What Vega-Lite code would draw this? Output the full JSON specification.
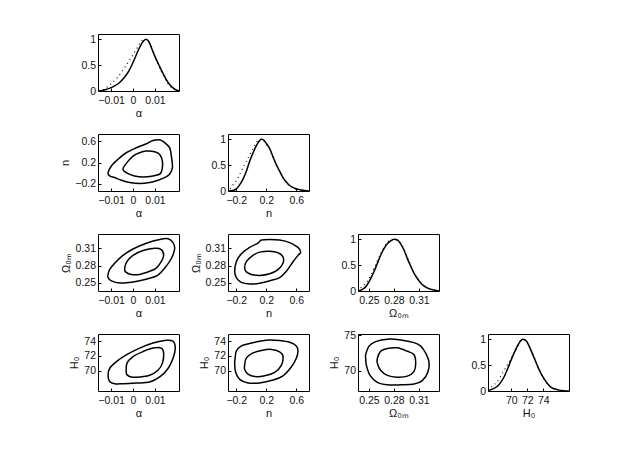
{
"$schema": "https://vega.github.io/schema/vega-lite/v6.json",
"padding": {"left": 59, "top": 33, "right": 5, "bottom": 5},
"background": "white",
"datasets": {
"d_a": [
{"s":"solid","x":-0.016,"y":0.0},{"s":"solid","x":-0.014,"y":0.012},{"s":"solid","x":-0.012,"y":0.035},{"s":"solid","x":-0.01,"y":0.065},{"s":"solid","x":-0.008,"y":0.11},{"s":"solid","x":-0.006,"y":0.17},{"s":"solid","x":-0.004,"y":0.26},{"s":"solid","x":-0.002,"y":0.38},{"s":"solid","x":0.0,"y":0.55},{"s":"solid","x":0.0015,"y":0.7},{"s":"solid","x":0.003,"y":0.84},{"s":"solid","x":0.0045,"y":0.95},{"s":"solid","x":0.0058,"y":1.0},{"s":"solid","x":0.007,"y":0.97},{"s":"solid","x":0.008,"y":0.88},{"s":"solid","x":0.0091,"y":0.76},{"s":"solid","x":0.0105,"y":0.62},{"s":"solid","x":0.0122,"y":0.47},{"s":"solid","x":0.0137,"y":0.34},{"s":"solid","x":0.0152,"y":0.22},{"s":"solid","x":0.0168,"y":0.12},{"s":"solid","x":0.0183,"y":0.06},{"s":"solid","x":0.0197,"y":0.02},{"s":"solid","x":0.021,"y":0.003},
{"s":"dot","x":-0.0137,"y":0.02},{"s":"dot","x":-0.012,"y":0.07},{"s":"dot","x":-0.01,"y":0.14},{"s":"dot","x":-0.008,"y":0.22},{"s":"dot","x":-0.006,"y":0.32},{"s":"dot","x":-0.004,"y":0.44},{"s":"dot","x":-0.002,"y":0.57},{"s":"dot","x":0.0,"y":0.7},{"s":"dot","x":0.002,"y":0.84},{"s":"dot","x":0.0035,"y":0.94},{"s":"dot","x":0.005,"y":1.0},{"s":"dot","x":0.0065,"y":0.98},{"s":"dot","x":0.008,"y":0.88},{"s":"dot","x":0.0095,"y":0.72},{"s":"dot","x":0.011,"y":0.56},{"s":"dot","x":0.0125,"y":0.41},{"s":"dot","x":0.014,"y":0.28},{"s":"dot","x":0.0155,"y":0.17},{"s":"dot","x":0.017,"y":0.09},{"s":"dot","x":0.0185,"y":0.04},{"s":"dot","x":0.02,"y":0.01}
],
"d_n": [
{"s":"solid","x":-0.31,"y":0.0},{"s":"solid","x":-0.243,"y":0.01},{"s":"solid","x":-0.2,"y":0.04},{"s":"solid","x":-0.177,"y":0.075},{"s":"solid","x":-0.14,"y":0.15},{"s":"solid","x":-0.11,"y":0.23},{"s":"solid","x":-0.065,"y":0.38},{"s":"solid","x":-0.021,"y":0.575},{"s":"solid","x":0.025,"y":0.74},{"s":"solid","x":0.068,"y":0.875},{"s":"solid","x":0.105,"y":0.96},{"s":"solid","x":0.134,"y":1.0},{"s":"solid","x":0.16,"y":0.99},{"s":"solid","x":0.179,"y":0.96},{"s":"solid","x":0.21,"y":0.9},{"s":"solid","x":0.246,"y":0.82},{"s":"solid","x":0.29,"y":0.66},{"s":"solid","x":0.334,"y":0.51},{"s":"solid","x":0.38,"y":0.38},{"s":"solid","x":0.423,"y":0.26},{"s":"solid","x":0.47,"y":0.17},{"s":"solid","x":0.512,"y":0.106},{"s":"solid","x":0.555,"y":0.07},{"s":"solid","x":0.601,"y":0.044},{"s":"solid","x":0.65,"y":0.025},{"s":"solid","x":0.69,"y":0.0125},{"s":"solid","x":0.73,"y":0.004},{"s":"solid","x":0.77,"y":0.0},
{"s":"dot","x":-0.28,"y":0.04},{"s":"dot","x":-0.266,"y":0.075},{"s":"dot","x":-0.233,"y":0.14},{"s":"dot","x":-0.199,"y":0.2},{"s":"dot","x":-0.165,"y":0.29},{"s":"dot","x":-0.132,"y":0.39},{"s":"dot","x":-0.1,"y":0.48},{"s":"dot","x":-0.066,"y":0.575},{"s":"dot","x":-0.032,"y":0.67},{"s":"dot","x":0.001,"y":0.76},{"s":"dot","x":0.035,"y":0.85},{"s":"dot","x":0.068,"y":0.94},{"s":"dot","x":0.1,"y":0.99},{"s":"dot","x":0.12,"y":1.0},{"s":"dot","x":0.15,"y":0.99},{"s":"dot","x":0.179,"y":0.95},{"s":"dot","x":0.21,"y":0.88},{"s":"dot","x":0.246,"y":0.8},{"s":"dot","x":0.29,"y":0.66},{"s":"dot","x":0.334,"y":0.5},{"s":"dot","x":0.38,"y":0.36},{"s":"dot","x":0.423,"y":0.25},{"s":"dot","x":0.468,"y":0.17},{"s":"dot","x":0.512,"y":0.1},{"s":"dot","x":0.56,"y":0.06},{"s":"dot","x":0.601,"y":0.035},{"s":"dot","x":0.65,"y":0.02}
],
"d_o": [
{"s":"solid","x":0.237,"y":0.0},{"s":"solid","x":0.2422,"y":0.03},{"s":"solid","x":0.2455,"y":0.07},{"s":"solid","x":0.2482,"y":0.125},{"s":"solid","x":0.2522,"y":0.24},{"s":"solid","x":0.2562,"y":0.375},{"s":"solid","x":0.2601,"y":0.53},{"s":"solid","x":0.2641,"y":0.69},{"s":"solid","x":0.2681,"y":0.82},{"s":"solid","x":0.2721,"y":0.91},{"s":"solid","x":0.2765,"y":0.97},{"s":"solid","x":0.2809,"y":1.0},{"s":"solid","x":0.2845,"y":0.98},{"s":"solid","x":0.2881,"y":0.91},{"s":"solid","x":0.2921,"y":0.79},{"s":"solid","x":0.2961,"y":0.625},{"s":"solid","x":0.3001,"y":0.48},{"s":"solid","x":0.3041,"y":0.34},{"s":"solid","x":0.3081,"y":0.24},{"s":"solid","x":0.3121,"y":0.156},{"s":"solid","x":0.316,"y":0.1},{"s":"solid","x":0.32,"y":0.06},{"s":"solid","x":0.324,"y":0.035},{"s":"solid","x":0.328,"y":0.02},{"s":"solid","x":0.331,"y":0.008},{"s":"solid","x":0.334,"y":0.0},
{"s":"dot","x":0.2402,"y":0.06},{"s":"dot","x":0.2442,"y":0.12},{"s":"dot","x":0.2482,"y":0.19},{"s":"dot","x":0.2522,"y":0.3},{"s":"dot","x":0.2562,"y":0.44},{"s":"dot","x":0.2601,"y":0.58},{"s":"dot","x":0.2641,"y":0.72},{"s":"dot","x":0.2681,"y":0.84},{"s":"dot","x":0.2721,"y":0.94},{"s":"dot","x":0.2755,"y":0.98},{"s":"dot","x":0.278,"y":1.0},{"s":"dot","x":0.2809,"y":0.995},{"s":"dot","x":0.2845,"y":0.97},{"s":"dot","x":0.2881,"y":0.92},{"s":"dot","x":0.2921,"y":0.8},{"s":"dot","x":0.2961,"y":0.65},{"s":"dot","x":0.3001,"y":0.5},{"s":"dot","x":0.3041,"y":0.36},{"s":"dot","x":0.3081,"y":0.25},{"s":"dot","x":0.3121,"y":0.16},{"s":"dot","x":0.316,"y":0.1},{"s":"dot","x":0.32,"y":0.06},{"s":"dot","x":0.324,"y":0.03}
],
"d_h": [
{"s":"solid","x":67.1,"y":0.01},{"s":"solid","x":67.72,"y":0.04},{"s":"solid","x":68.34,"y":0.1},{"s":"solid","x":68.75,"y":0.18},{"s":"solid","x":69.16,"y":0.29},{"s":"solid","x":69.58,"y":0.44},{"s":"solid","x":69.99,"y":0.6},{"s":"solid","x":70.4,"y":0.75},{"s":"solid","x":70.81,"y":0.88},{"s":"solid","x":71.12,"y":0.96},{"s":"solid","x":71.43,"y":1.0},{"s":"solid","x":71.65,"y":0.99},{"s":"solid","x":71.85,"y":0.97},{"s":"solid","x":72.16,"y":0.89},{"s":"solid","x":72.47,"y":0.78},{"s":"solid","x":72.88,"y":0.63},{"s":"solid","x":73.29,"y":0.475},{"s":"solid","x":73.7,"y":0.34},{"s":"solid","x":74.12,"y":0.23},{"s":"solid","x":74.53,"y":0.14},{"s":"solid","x":74.94,"y":0.074},{"s":"solid","x":75.35,"y":0.042},{"s":"solid","x":75.77,"y":0.025},{"s":"solid","x":76.18,"y":0.012},{"s":"solid","x":76.59,"y":0.006},{"s":"solid","x":77.18,"y":0.0},
{"s":"dot","x":67.51,"y":0.074},{"s":"dot","x":67.92,"y":0.13},{"s":"dot","x":68.34,"y":0.2},{"s":"dot","x":68.75,"y":0.3},{"s":"dot","x":69.16,"y":0.41},{"s":"dot","x":69.58,"y":0.52},{"s":"dot","x":69.99,"y":0.63},{"s":"dot","x":70.4,"y":0.74},{"s":"dot","x":70.81,"y":0.85},{"s":"dot","x":71.02,"y":0.92},{"s":"dot","x":71.22,"y":0.97},{"s":"dot","x":71.43,"y":1.0},{"s":"dot","x":71.65,"y":0.99},{"s":"dot","x":71.85,"y":0.97},{"s":"dot","x":72.16,"y":0.9},{"s":"dot","x":72.47,"y":0.79},{"s":"dot","x":72.88,"y":0.64},{"s":"dot","x":73.29,"y":0.48},{"s":"dot","x":73.7,"y":0.34},{"s":"dot","x":74.12,"y":0.22},{"s":"dot","x":74.53,"y":0.13},{"s":"dot","x":74.94,"y":0.07},{"s":"dot","x":75.35,"y":0.035}
],
"c_an": [
{"s":"o","i":0,"x":-0.0114,"y":0.010},{"s":"o","i":1,"x":-0.0099,"y":0.135},{"s":"o","i":2,"x":-0.0069,"y":0.259},{"s":"o","i":3,"x":-0.0031,"y":0.383},{"s":"o","i":4,"x":0.0015,"y":0.476},{"s":"o","i":5,"x":0.0061,"y":0.551},{"s":"o","i":6,"x":0.0091,"y":0.612},{"s":"o","i":7,"x":0.0125,"y":0.622},{"s":"o","i":8,"x":0.0148,"y":0.56},{"s":"o","i":9,"x":0.0168,"y":0.47},{"s":"o","i":10,"x":0.0176,"y":0.29},{"s":"o","i":11,"x":0.018,"y":0.103},{"s":"o","i":12,"x":0.0167,"y":-0.021},{"s":"o","i":13,"x":0.0144,"y":-0.083},{"s":"o","i":14,"x":0.0114,"y":-0.133},{"s":"o","i":15,"x":0.0076,"y":-0.176},{"s":"o","i":16,"x":0.003,"y":-0.195},{"s":"o","i":17,"x":-0.0015,"y":-0.176},{"s":"o","i":18,"x":-0.0053,"y":-0.133},{"s":"o","i":19,"x":-0.0084,"y":-0.083},{"s":"o","i":20,"x":-0.0107,"y":-0.052},
{"s":"i","i":0,"x":-0.0046,"y":0.072},{"s":"i","i":1,"x":-0.0028,"y":0.197},{"s":"i","i":2,"x":0.0,"y":0.321},{"s":"i","i":3,"x":0.003,"y":0.383},{"s":"i","i":4,"x":0.0061,"y":0.414},{"s":"i","i":5,"x":0.0099,"y":0.402},{"s":"i","i":6,"x":0.0122,"y":0.352},{"s":"i","i":7,"x":0.0134,"y":0.228},{"s":"i","i":8,"x":0.0134,"y":0.103},{"s":"i","i":9,"x":0.0125,"y":-0.008},{"s":"i","i":10,"x":0.0091,"y":-0.052},{"s":"i","i":11,"x":0.0046,"y":-0.07},{"s":"i","i":12,"x":0.0007,"y":-0.052},{"s":"i","i":13,"x":-0.0023,"y":-0.008}
],
"c_ao": [
{"s":"o","i":0,"x":-0.0114,"y":0.2648},{"s":"o","i":1,"x":-0.0107,"y":0.2731},{"s":"o","i":2,"x":-0.0084,"y":0.2841},{"s":"o","i":3,"x":-0.0046,"y":0.2979},{"s":"o","i":4,"x":0.0,"y":0.309},{"s":"o","i":5,"x":0.0061,"y":0.319},{"s":"o","i":6,"x":0.0122,"y":0.3256},{"s":"o","i":7,"x":0.016,"y":0.3267},{"s":"o","i":8,"x":0.0183,"y":0.3201},{"s":"o","i":9,"x":0.019,"y":0.309},{"s":"o","i":10,"x":0.0175,"y":0.2924},{"s":"o","i":11,"x":0.0145,"y":0.2758},{"s":"o","i":12,"x":0.0114,"y":0.2637},{"s":"o","i":13,"x":0.0076,"y":0.2581},{"s":"o","i":14,"x":0.003,"y":0.2537},{"s":"o","i":15,"x":-0.0015,"y":0.2509},{"s":"o","i":16,"x":-0.0061,"y":0.2498},{"s":"o","i":17,"x":-0.0099,"y":0.2537},{"s":"o","i":18,"x":-0.0114,"y":0.2592},
{"s":"i","i":0,"x":-0.0038,"y":0.2758},{"s":"i","i":1,"x":-0.0028,"y":0.2869},{"s":"i","i":2,"x":0.0,"y":0.2979},{"s":"i","i":3,"x":0.0046,"y":0.3062},{"s":"i","i":4,"x":0.0099,"y":0.3101},{"s":"i","i":5,"x":0.0129,"y":0.3079},{"s":"i","i":6,"x":0.014,"y":0.2979},{"s":"i","i":7,"x":0.0129,"y":0.2869},{"s":"i","i":8,"x":0.0106,"y":0.2758},{"s":"i","i":9,"x":0.0076,"y":0.2703},{"s":"i","i":10,"x":0.003,"y":0.2648},{"s":"i","i":11,"x":-0.0008,"y":0.2648},{"s":"i","i":12,"x":-0.0034,"y":0.2692}
],
"c_no": [
{"s":"o","i":0,"x":-0.221,"y":0.2703},{"s":"o","i":1,"x":-0.199,"y":0.2869},{"s":"o","i":2,"x":-0.132,"y":0.3007},{"s":"o","i":3,"x":-0.021,"y":0.3118},{"s":"o","i":4,"x":0.09,"y":0.319},{"s":"o","i":5,"x":0.134,"y":0.3245},{"s":"o","i":6,"x":0.246,"y":0.3256},{"s":"o","i":7,"x":0.379,"y":0.3245},{"s":"o","i":8,"x":0.512,"y":0.3201},{"s":"o","i":9,"x":0.623,"y":0.3118},{"s":"o","i":10,"x":0.659,"y":0.3035},{"s":"o","i":11,"x":0.623,"y":0.2979},{"s":"o","i":12,"x":0.557,"y":0.2869},{"s":"o","i":13,"x":0.468,"y":0.2703},{"s":"o","i":14,"x":0.379,"y":0.2592},{"s":"o","i":15,"x":0.246,"y":0.2537},{"s":"o","i":16,"x":0.112,"y":0.2493},{"s":"o","i":17,"x":-0.021,"y":0.2482},{"s":"o","i":18,"x":-0.132,"y":0.2509},{"s":"o","i":19,"x":-0.199,"y":0.2592},
{"s":"i","i":0,"x":-0.088,"y":0.2758},{"s":"i","i":1,"x":-0.066,"y":0.2869},{"s":"i","i":2,"x":0.023,"y":0.2979},{"s":"i","i":3,"x":0.112,"y":0.3035},{"s":"i","i":4,"x":0.246,"y":0.3051},{"s":"i","i":5,"x":0.357,"y":0.3024},{"s":"i","i":6,"x":0.423,"y":0.2952},{"s":"i","i":7,"x":0.423,"y":0.2841},{"s":"i","i":8,"x":0.357,"y":0.2731},{"s":"i","i":9,"x":0.246,"y":0.2659},{"s":"i","i":10,"x":0.112,"y":0.2631},{"s":"i","i":11,"x":0.001,"y":0.2648},{"s":"i","i":12,"x":-0.066,"y":0.2692}
],
"c_ah": [
{"s":"o","i":0,"x":-0.0114,"y":69.35},{"s":"o","i":1,"x":-0.0107,"y":70.28},{"s":"o","i":2,"x":-0.0076,"y":71.21},{"s":"o","i":3,"x":-0.0031,"y":72.14},{"s":"o","i":4,"x":0.003,"y":73.07},{"s":"o","i":5,"x":0.0091,"y":73.77},{"s":"o","i":6,"x":0.0152,"y":74.14},{"s":"o","i":7,"x":0.0183,"y":74.0},{"s":"o","i":8,"x":0.0193,"y":73.07},{"s":"o","i":9,"x":0.0183,"y":71.67},{"s":"o","i":10,"x":0.016,"y":70.28},{"s":"o","i":11,"x":0.0122,"y":69.12},{"s":"o","i":12,"x":0.0076,"y":68.42},{"s":"o","i":13,"x":0.0015,"y":68.28},{"s":"o","i":14,"x":-0.0046,"y":68.19},{"s":"o","i":15,"x":-0.0084,"y":68.19},{"s":"o","i":16,"x":-0.0107,"y":68.51},
{"s":"i","i":0,"x":-0.0031,"y":69.81},{"s":"i","i":1,"x":-0.0028,"y":70.98},{"s":"i","i":2,"x":0.0,"y":71.91},{"s":"i","i":3,"x":0.0046,"y":72.6},{"s":"i","i":4,"x":0.0091,"y":73.07},{"s":"i","i":5,"x":0.0129,"y":73.07},{"s":"i","i":6,"x":0.014,"y":72.37},{"s":"i","i":7,"x":0.0134,"y":70.98},{"s":"i","i":8,"x":0.0114,"y":70.05},{"s":"i","i":9,"x":0.0076,"y":69.35},{"s":"i","i":10,"x":0.003,"y":69.12},{"s":"i","i":11,"x":-0.0008,"y":69.12},{"s":"i","i":12,"x":-0.0028,"y":69.44}
],
"c_nh": [
{"s":"o","i":0,"x":-0.199,"y":72.65},{"s":"o","i":1,"x":-0.132,"y":73.37},{"s":"o","i":2,"x":-0.021,"y":73.71},{"s":"o","i":3,"x":0.112,"y":74.0},{"s":"o","i":4,"x":0.246,"y":74.19},{"s":"o","i":5,"x":0.379,"y":74.1},{"s":"o","i":6,"x":0.512,"y":73.86},{"s":"o","i":7,"x":0.601,"y":73.37},{"s":"o","i":8,"x":0.623,"y":72.65},{"s":"o","i":9,"x":0.601,"y":71.69},{"s":"o","i":10,"x":0.534,"y":70.48},{"s":"o","i":11,"x":0.423,"y":69.28},{"s":"o","i":12,"x":0.29,"y":68.7},{"s":"o","i":13,"x":0.112,"y":68.31},{"s":"o","i":14,"x":-0.043,"y":68.31},{"s":"o","i":15,"x":-0.154,"y":68.79},{"s":"o","i":16,"x":-0.208,"y":69.76},{"s":"o","i":17,"x":-0.221,"y":70.96},{"s":"o","i":18,"x":-0.212,"y":71.93},
{"s":"i","i":0,"x":-0.088,"y":70.72},{"s":"i","i":1,"x":-0.066,"y":71.69},{"s":"i","i":2,"x":0.023,"y":72.41},{"s":"i","i":3,"x":0.134,"y":72.75},{"s":"i","i":4,"x":0.268,"y":72.89},{"s":"i","i":5,"x":0.379,"y":72.55},{"s":"i","i":6,"x":0.423,"y":71.93},{"s":"i","i":7,"x":0.401,"y":70.72},{"s":"i","i":8,"x":0.312,"y":69.76},{"s":"i","i":9,"x":0.179,"y":69.28},{"s":"i","i":10,"x":0.046,"y":69.18},{"s":"i","i":11,"x":-0.043,"y":69.52},{"s":"i","i":12,"x":-0.088,"y":70.14}
],
"c_oh": [
{"s":"o","i":0,"x":0.2462,"y":72.24},{"s":"o","i":1,"x":0.2502,"y":73.45},{"s":"o","i":2,"x":0.2582,"y":74.08},{"s":"o","i":3,"x":0.2721,"y":74.42},{"s":"o","i":4,"x":0.2881,"y":74.32},{"s":"o","i":5,"x":0.3041,"y":73.94},{"s":"o","i":6,"x":0.3121,"y":73.45},{"s":"o","i":7,"x":0.318,"y":72.48},{"s":"o","i":8,"x":0.322,"y":71.27},{"s":"o","i":9,"x":0.3208,"y":69.81},{"s":"o","i":10,"x":0.314,"y":68.6},{"s":"o","i":11,"x":0.3041,"y":68.11},{"s":"o","i":12,"x":0.2881,"y":68.01},{"s":"o","i":13,"x":0.2721,"y":68.01},{"s":"o","i":14,"x":0.2602,"y":68.35},{"s":"o","i":15,"x":0.2514,"y":69.33},{"s":"o","i":16,"x":0.247,"y":70.78},{"s":"o","i":17,"x":0.2462,"y":71.75},
{"s":"i","i":0,"x":0.2602,"y":71.75},{"s":"i","i":1,"x":0.2641,"y":72.72},{"s":"i","i":2,"x":0.2721,"y":73.11},{"s":"i","i":3,"x":0.2841,"y":73.21},{"s":"i","i":4,"x":0.2961,"y":72.72},{"s":"i","i":5,"x":0.3041,"y":72.24},{"s":"i","i":6,"x":0.3061,"y":71.02},{"s":"i","i":7,"x":0.3041,"y":69.91},{"s":"i","i":8,"x":0.2961,"y":69.23},{"s":"i","i":9,"x":0.2841,"y":69.08},{"s":"i","i":10,"x":0.2721,"y":69.33},{"s":"i","i":11,"x":0.2641,"y":70.05},{"s":"i","i":12,"x":0.2602,"y":71.02}
]
},
"columns": 4,
"spacing": {"row": 43, "column": 49},
"bounds": "flush",
"concat": [
{"width":81,"height":57,"data":{"name":"d_a"},
 "encoding":{"x":{"field":"x","type":"quantitative","scale":{"domain":[-0.016,0.021],"nice":false,"zero":false},"axis":{"values":[-0.01,0,0.01],"format":"~g","title":"α"}},
  "y":{"field":"y","type":"quantitative","scale":{"domain":[0,1.1],"nice":false,"zero":false},"axis":{"values":[0,0.5,1],"format":"~g","title":null}}},
 "layer":[
  {"transform":[{"filter":"datum.s=='solid'"}],"mark":{"type":"line","interpolate":"monotone","color":"black","strokeWidth":1.5,"clip":true}},
  {"transform":[{"filter":"datum.s=='dot'"}],"mark":{"type":"line","interpolate":"monotone","color":"black","strokeWidth":1.1,"strokeDash":[1,3.5],"clip":true}}
 ]},
{"width":81,"height":57,"view":{"stroke":null},"data":{"values":[]},"mark":"point"},
{"width":81,"height":57,"view":{"stroke":null},"data":{"values":[]},"mark":"point"},
{"width":81,"height":57,"view":{"stroke":null},"data":{"values":[]},"mark":"point"},

{"width":81,"height":57,"data":{"name":"c_an"},
 "mark":{"type":"line","interpolate":"cardinal-closed","color":"black","strokeWidth":1.5,"clip":true},
 "encoding":{"x":{"field":"x","type":"quantitative","scale":{"domain":[-0.016,0.021],"nice":false,"zero":false},"axis":{"values":[-0.01,0,0.01],"format":"~g","title":"α"}},
  "y":{"field":"y","type":"quantitative","scale":{"domain":[-0.335,0.735],"nice":false,"zero":false},"axis":{"values":[-0.2,0.2,0.6],"format":"~g","title":"n"}},
  "detail":{"field":"s"},"order":{"field":"i"}}},
{"width":81,"height":57,"data":{"name":"d_n"},
 "encoding":{"x":{"field":"x","type":"quantitative","scale":{"domain":[-0.31,0.77],"nice":false,"zero":false},"axis":{"values":[-0.2,0.2,0.6],"format":"~g","title":"n"}},
  "y":{"field":"y","type":"quantitative","scale":{"domain":[0,1.1],"nice":false,"zero":false},"axis":{"values":[0,0.5,1],"format":"~g","title":null}}},
 "layer":[
  {"transform":[{"filter":"datum.s=='solid'"}],"mark":{"type":"line","interpolate":"monotone","color":"black","strokeWidth":1.5,"clip":true}},
  {"transform":[{"filter":"datum.s=='dot'"}],"mark":{"type":"line","interpolate":"monotone","color":"black","strokeWidth":1.1,"strokeDash":[1,3.5],"clip":true}}
 ]},
{"width":81,"height":57,"view":{"stroke":null},"data":{"values":[]},"mark":"point"},
{"width":81,"height":57,"view":{"stroke":null},"data":{"values":[]},"mark":"point"},

{"width":81,"height":57,"data":{"name":"c_ao"},
 "mark":{"type":"line","interpolate":"cardinal-closed","color":"black","strokeWidth":1.5,"clip":true},
 "encoding":{"x":{"field":"x","type":"quantitative","scale":{"domain":[-0.016,0.021],"nice":false,"zero":false},"axis":{"values":[-0.01,0,0.01],"format":"~g","title":"α"}},
  "y":{"field":"y","type":"quantitative","scale":{"domain":[0.236,0.335],"nice":false,"zero":false},"axis":{"values":[0.25,0.28,0.31],"format":"~g","title":"Ω₀ₘ"}},
  "detail":{"field":"s"},"order":{"field":"i"}}},
{"width":81,"height":57,"data":{"name":"c_no"},
 "mark":{"type":"line","interpolate":"cardinal-closed","color":"black","strokeWidth":1.5,"clip":true},
 "encoding":{"x":{"field":"x","type":"quantitative","scale":{"domain":[-0.31,0.77],"nice":false,"zero":false},"axis":{"values":[-0.2,0.2,0.6],"format":"~g","title":"n"}},
  "y":{"field":"y","type":"quantitative","scale":{"domain":[0.236,0.335],"nice":false,"zero":false},"axis":{"values":[0.25,0.28,0.31],"format":"~g","title":"Ω₀ₘ"}},
  "detail":{"field":"s"},"order":{"field":"i"}}},
{"width":81,"height":57,"data":{"name":"d_o"},
 "encoding":{"x":{"field":"x","type":"quantitative","scale":{"domain":[0.237,0.334],"nice":false,"zero":false},"axis":{"values":[0.25,0.28,0.31],"format":"~g","title":"Ω₀ₘ"}},
  "y":{"field":"y","type":"quantitative","scale":{"domain":[0,1.1],"nice":false,"zero":false},"axis":{"values":[0,0.5,1],"format":"~g","title":null}}},
 "layer":[
  {"transform":[{"filter":"datum.s=='solid'"}],"mark":{"type":"line","interpolate":"monotone","color":"black","strokeWidth":1.5,"clip":true}},
  {"transform":[{"filter":"datum.s=='dot'"}],"mark":{"type":"line","interpolate":"monotone","color":"black","strokeWidth":1.1,"strokeDash":[1,3.5],"clip":true}}
 ]},
{"width":81,"height":57,"view":{"stroke":null},"data":{"values":[]},"mark":"point"},

{"width":81,"height":57,"data":{"name":"c_ah"},
 "mark":{"type":"line","interpolate":"cardinal-closed","color":"black","strokeWidth":1.5,"clip":true},
 "encoding":{"x":{"field":"x","type":"quantitative","scale":{"domain":[-0.016,0.021],"nice":false,"zero":false},"axis":{"values":[-0.01,0,0.01],"format":"~g","title":"α"}},
  "y":{"field":"y","type":"quantitative","scale":{"domain":[67.2,75.0],"nice":false,"zero":false},"axis":{"values":[70,72,74],"format":"~g","title":"H₀"}},
  "detail":{"field":"s"},"order":{"field":"i"}}},
{"width":81,"height":57,"data":{"name":"c_nh"},
 "mark":{"type":"line","interpolate":"cardinal-closed","color":"black","strokeWidth":1.5,"clip":true},
 "encoding":{"x":{"field":"x","type":"quantitative","scale":{"domain":[-0.31,0.77],"nice":false,"zero":false},"axis":{"values":[-0.2,0.2,0.6],"format":"~g","title":"n"}},
  "y":{"field":"y","type":"quantitative","scale":{"domain":[67.2,75.0],"nice":false,"zero":false},"axis":{"values":[70,72,74],"format":"~g","title":"H₀"}},
  "detail":{"field":"s"},"order":{"field":"i"}}},
{"width":81,"height":57,"data":{"name":"c_oh"},
 "mark":{"type":"line","interpolate":"cardinal-closed","color":"black","strokeWidth":1.5,"clip":true},
 "encoding":{"x":{"field":"x","type":"quantitative","scale":{"domain":[0.237,0.334],"nice":false,"zero":false},"axis":{"values":[0.25,0.28,0.31],"format":"~g","title":"Ω₀ₘ"}},
  "y":{"field":"y","type":"quantitative","scale":{"domain":[67.14,75.15],"nice":false,"zero":false},"axis":{"values":[70,75],"format":"~g","title":"H₀"}},
  "detail":{"field":"s"},"order":{"field":"i"}}},
{"width":81,"height":57,"data":{"name":"d_h"},
 "encoding":{"x":{"field":"x","type":"quantitative","scale":{"domain":[67.1,77.2],"nice":false,"zero":false},"axis":{"values":[70,72,74],"format":"~g","title":"H₀"}},
  "y":{"field":"y","type":"quantitative","scale":{"domain":[0,1.1],"nice":false,"zero":false},"axis":{"values":[0,0.5,1],"format":"~g","title":null}}},
 "layer":[
  {"transform":[{"filter":"datum.s=='solid'"}],"mark":{"type":"line","interpolate":"monotone","color":"black","strokeWidth":1.5,"clip":true}},
  {"transform":[{"filter":"datum.s=='dot'"}],"mark":{"type":"line","interpolate":"monotone","color":"black","strokeWidth":1.1,"strokeDash":[1,3.5],"clip":true}}
 ]}
],
"config": {
 "view": {"stroke": "black", "strokeWidth": 1},
 "axis": {"grid": false, "domain": false, "tickColor": "black", "tickSize": -3, "labelFont": "Liberation Sans", "labelFontSize": 10.5, "labelColor": "#111", "titleFont": "Liberation Sans", "titleFontSize": 11, "titleFontWeight": "normal", "titleColor": "#111"},
 "axisX": {"labelPadding": 7.5, "titlePadding": 1},
 "axisY": {"labelPadding": 5.5, "titlePadding": 4}
}
}
